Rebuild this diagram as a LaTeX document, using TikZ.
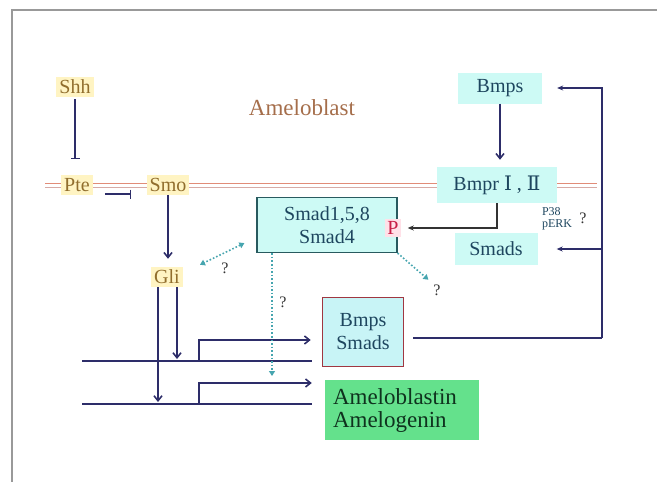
\documentclass[tikz,border=0pt]{standalone}
\usepackage{fontspec}
\setmainfont{Liberation Serif}
\newfontfamily\numfont{DejaVu Serif}
\usetikzlibrary{arrows.meta}
\definecolor{glow}{RGB}{255,244,195}
\definecolor{hhtext}{RGB}{145,110,45}
\definecolor{cellcol}{RGB}{165,110,75}
\definecolor{cyanbox}{RGB}{205,250,245}
\definecolor{bsfill}{RGB}{200,244,246}
\definecolor{boxtext}{RGB}{30,70,95}
\definecolor{smadline}{RGB}{40,90,95}
\definecolor{redline}{RGB}{160,55,65}
\definecolor{genebox}{RGB}{100,225,140}
\definecolor{genetext}{RGB}{15,50,30}
\definecolor{navy}{RGB}{45,45,105}
\definecolor{dotcol}{RGB}{70,165,175}
\definecolor{memtop}{RGB}{225,140,120}
\definecolor{membot}{RGB}{215,170,165}
\definecolor{pcol}{RGB}{200,30,70}
\definecolor{pglow}{RGB}{255,225,232}

\begin{document}
\begin{tikzpicture}[x=1pt, y=-1pt,
    every node/.style={font=\fontsize{20}{23}\selectfont},
    hh/.style={fill=glow, text=hhtext, inner sep=3pt},
    cbox/.style={fill=cyanbox, text=boxtext, align=center, inner sep=0pt},
    qm/.style={font=\fontsize{16}{18}\selectfont, text=black!80},
    act/.style={draw=navy, line width=1.6pt, -{Straight Barb[length=5pt,width=8pt]}},
    inh/.style={draw=navy, line width=1.6pt, -{Bar[width=9pt]}},
    fb/.style={draw=navy, line width=1.6pt},
    fbtip/.style={fb, -{Stealth[length=6pt,width=5pt]}},
    dot/.style={draw=dotcol, line width=1.6pt, dotted, >={Triangle[length=5pt,width=6pt]}},
    gene/.style={draw=navy, line width=1.8pt}]
  \useasboundingbox (0,0) rectangle (657,482);
  \draw[gray!80, line width=1.5pt] (12,482) -- (12,10) -- (657,10);

  \draw[memtop, line width=1.5pt] (45,183.5) -- (597,183.5);
  \draw[membot, line width=1.5pt] (45,187.5) -- (597,187.5);

  \node[hh] (shh) at (75,87) {Shh};
  \node[hh] (pte) at (77,185) {Pte};
  \node[hh] (smo) at (168,185) {Smo};
  \node[hh] (gli) at (167,277) {Gli};
  \node[text=cellcol, font=\fontsize{23}{26}\selectfont] (cell) at (302,108) {Ameloblast};

  \node[cbox, minimum width=84pt, minimum height=31pt] (bmps) at (500,88) {Bmps};
  \node[cbox, minimum width=120pt, minimum height=36pt] (bmpr) at (497,185) {Bmpr {\numfont Ⅰ} , {\numfont Ⅱ}};
  \node[cbox, draw=smadline, line width=1.2pt, minimum width=140pt, minimum height=55pt] (smad) at (327,225) {Smad1,5,8\\Smad4};
  \node[fill=pglow, text=pcol, inner sep=2pt] (p) at (393,228) {P};
  \node[cbox, minimum width=83pt, minimum height=32pt] (smads) at (496,249) {Smads};
  \node[font=\fontsize{12}{12}\selectfont, text=boxtext, align=left] (kin) at (557,219) {P38\\pERK};
  \node[qm] (q4) at (583,218) {?};
  \node[cbox, fill=bsfill, draw=redline, line width=1.6pt, minimum width=81pt, minimum height=69pt] (bs) at (363,332) {Bmps\\Smads};
  \node[fill=genebox, text=genetext, align=left, font=\fontsize{23}{23}\selectfont, text width=138pt, inner sep=8pt, minimum height=60pt] (amel) at (402,410) {Ameloblastin\\Amelogenin};

  \node[qm] (q1) at (225,268) {?};
  \node[qm] (q2) at (283,302) {?};
  \node[qm] (q3) at (437,290) {?};

  \coordinate (g1a) at (82,361);
  \coordinate (g1b) at (312,361);
  \coordinate (g2a) at (82,404);
  \coordinate (g2b) at (312,404);
  \coordinate (pr1) at (199,361);
  \coordinate (pr2) at (199,404);
  \coordinate (fbc) at (602,338);
  \coordinate (tx) at (272,376);

  \draw[inh, shorten <=2pt, shorten >=16pt] (shh.south) -- (shh.south |- pte.north);
  \draw[inh, shorten <=12pt, shorten >=15pt] ([yshift=-9pt]pte.east) -- ([yshift=-9pt]smo.west);
  \draw[act, shorten >=8pt] (smo.south) -- (smo.south |- gli.north);

  \draw[gene] (g1a) -- (g1b);
  \draw[gene] (g2a) -- (g2b);
  \draw[act, shorten >=2pt] ([xshift=10pt]gli.south) -- ([xshift=10pt]gli.south |- g1a);
  \draw[act, shorten >=2pt] ([xshift=-9pt]gli.south) -- ([xshift=-9pt]gli.south |- g2a);
  \draw[act, shorten >=11pt] (pr1) |- ([yshift=-8pt]bs.west);
  \draw[act, shorten >=13pt] (pr2) |- ([yshift=27pt]amel.west);

  \draw[act, shorten >=7pt] (bmps.south) -- (bmps.south |- bmpr.north);
  \draw[draw=black!80, line width=1.2pt, -{Stealth[length=6pt,width=5pt]}, shorten >=7pt] (bmpr.south) |- (p.east);

  \draw[fb, shorten <=9pt] ([yshift=-6pt]bs.east) -- (fbc);
  \draw[fbtip, shorten >=15pt] (fbc) |- (bmps.east);
  \draw[fbtip, shorten >=19pt] (fbc) |- (smads.east);

  \draw[dot, <->] ([xshift=-12pt,yshift=10pt]smad.south west) -- ([xshift=17pt,yshift=2pt]gli.north east);
  \draw[dot, ->, shorten >=2pt] (smad.south east) -- (q3.north west);
  \draw[dot, ->] (smad.south -| tx) -- (tx);
\end{tikzpicture}
\end{document}
